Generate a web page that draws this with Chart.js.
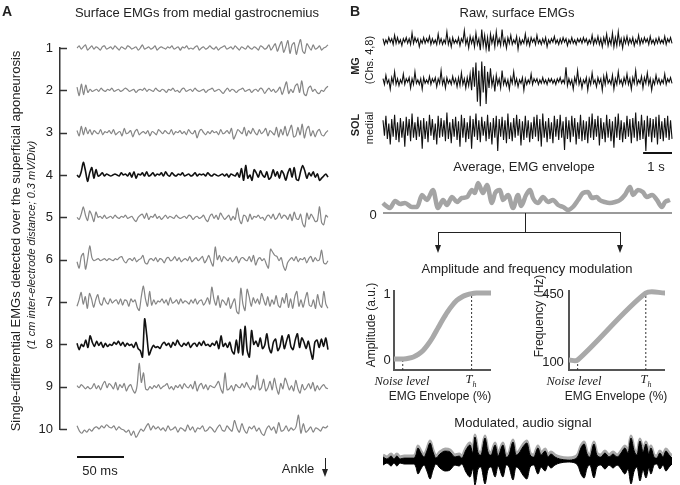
<!DOCTYPE html>
<html>
<head>
<meta charset="utf-8">
<script src="https://cdn.jsdelivr.net/npm/chart.js@4.4.1/dist/chart.umd.min.js"></script>
<style>
body { margin: 0; background: #fff; }
#fig { position: relative; width: 680px; height: 485px; overflow: hidden; font-family: "Liberation Sans", Arial, sans-serif; color: #222; }
canvas { position: absolute; }
.t { position: absolute; white-space: nowrap; transform: translate(-50%, -50%); line-height: 1; }
.r { transform: translate(-50%, -50%) rotate(-90deg); }
.b { font-weight: bold; }
.i { font-style: italic; }
.ser { font-family: "Liberation Serif", "Times New Roman", serif; font-style: italic; }
.ln { position: absolute; background: #222; }
.hd { position: absolute; width: 0; height: 0; border-left: 3.5px solid transparent; border-right: 3.5px solid transparent; border-top: 8px solid #222; }
</style>
</head>
<body>
<div id="fig">
  <canvas id="cA" width="340" height="485" style="left:0;top:0"></canvas>
  <canvas id="cRaw" width="320" height="145" style="left:360px;top:20px"></canvas>
  <canvas id="cEnv" width="320" height="55" style="left:360px;top:170px"></canvas>
  <canvas id="cAmp" width="140" height="100" style="left:360px;top:280px"></canvas>
  <canvas id="cFreq" width="170" height="100" style="left:510px;top:280px"></canvas>
  <canvas id="cAudio" width="320" height="57" style="left:360px;top:428px"></canvas>

  <div class="ln" style="left:525px;top:213px;width:1px;height:19px"></div>
  <div class="ln" style="left:438px;top:232px;width:183px;height:1px"></div>
  <div class="ln" style="left:438px;top:232px;width:1px;height:14px"></div>
  <div class="hd" style="left:435px;top:245px"></div>
  <div class="ln" style="left:620px;top:232px;width:1px;height:14px"></div>
  <div class="hd" style="left:617px;top:245px"></div>
  <div class="ln" style="left:325px;top:458px;width:1px;height:12px"></div>
  <div class="hd" style="left:322px;top:469px"></div>
</div>
<script>
// ---- panel A: single-differential EMGs, amplitude in 1/40 of a division (0.3 mV/Div)
const ch1 = [0,2,-1,1,3,-2,0,2,-1,1,0,-2,1,2,-1,0,1,-1,2,0,-2,1,0,-1,2,1,-1,0,1,-2,0,3,-1,0,1,-1,0,2,-2,0,1,0,-1,1,0,2,-1,0,1,-2,1,0,2,-1,0,-1,1,2,-2,0,1,-1,0,2,0,-1,1,-2,0,1,2,-1,0,1,-1,2,0,-2,1,0,-1,2,0,-1,1,0,-2,2,1,-1,0,3,-2,1,4,-3,2,6,-4,1,7,-5,3,5,-6,2,8,-3,-5,4,1,-2,3,-1,0,2,-2,0,1,3];
const ch2 = [3,-5,6,-4,5,-2,1,-1,0,1,-1,2,0,-1,1,0,2,-1,0,1,-1,0,2,1,-1,0,1,-2,0,1,0,2,-1,1,0,-1,2,0,-1,1,0,-2,1,0,2,-1,0,-2,1,2,-1,0,1,-1,2,0,-1,0,1,-2,0,1,2,-1,0,1,-1,-3,0,2,-1,1,0,-2,0,1,2,-1,0,1,-2,0,1,-1,2,1,-3,0,2,-1,1,-2,0,3,-4,2,8,-3,1,-2,4,6,-2,9,-3,-5,2,4,-1,1,-2,-3,0,-1,2,4];
const ch3 = [2,-3,6,-2,5,-1,3,-2,2,0,-1,3,-2,1,0,2,-1,3,-2,0,1,-3,4,-1,0,2,-4,1,3,-2,0,1,-1,2,-3,1,0,-2,3,1,-1,2,0,-1,3,-2,1,0,2,-1,1,-2,3,0,-1,2,-5,1,3,0,-2,1,-1,2,0,1,-2,3,-1,0,2,-1,4,-6,-2,3,1,-1,5,-3,2,-1,4,0,-2,3,-1,1,4,-3,2,0,-2,5,-4,3,-2,6,-3,2,7,-4,-3,5,-2,8,-5,3,6,-3,2,-4,1,3,-2,-3,0,2];
const ch4 = [0,-2,3,12,4,-6,2,7,-3,5,-1,0,2,-1,1,0,-1,0,1,0,-1,2,0,1,-1,2,-2,3,-3,1,0,2,-1,3,-1,0,2,-1,1,0,2,-1,3,0,-1,2,0,-1,1,0,2,-1,0,1,-1,0,2,-1,1,0,1,-1,2,0,-1,1,0,-1,0,1,-1,1,-2,1,0,-1,2,-2,6,-5,9,-3,0,-5,5,2,-2,4,0,-2,3,-4,-2,5,-1,3,-3,4,1,-5,2,6,-2,7,-4,-5,3,9,4,-3,2,-1,3,-2,1,-5,-3,-1,1,-2];
const ch5 = [0,-2,3,10,2,-3,6,2,-4,5,0,1,-1,2,-1,0,1,-1,2,0,-1,1,0,2,-1,0,1,-2,-4,0,2,3,-1,4,-2,1,0,3,-1,1,-2,0,2,-1,1,0,-1,2,0,-1,0,1,-1,2,1,-2,0,1,-1,0,2,-2,-4,1,3,-1,2,-2,4,1,-2,0,2,-3,1,-2,9,-2,-6,2,1,-4,3,-2,1,0,2,-1,0,-3,1,2,-1,3,-2,0,4,-1,2,1,-2,3,-3,5,-1,-2,3,-6,-9,4,-2,3,0,-4,-3,10,-5,-7,2,0];
const ch6 = [-2,-8,3,6,-9,1,13,2,-1,0,1,-1,0,1,-1,1,0,-1,1,0,2,3,-1,-3,0,1,-1,2,-2,0,1,4,-3,-4,0,1,-1,2,-2,1,0,-3,1,2,-1,0,3,-1,2,-2,0,1,-1,3,-2,0,2,-1,1,3,-3,0,4,-2,-6,12,0,4,-2,3,1,-1,2,-2,0,3,-3,1,2,0,-1,3,-2,4,-5,0,2,-1,1,-4,-8,10,7,4,3,-1,2,-6,-10,-3,0,2,-1,3,-2,1,0,2,-3,1,3,-2,2,-1,0,9,-3,-4,-1];
const ch7 = [-4,2,9,-2,5,-6,8,3,-5,2,7,-1,-3,4,0,-2,3,-1,1,2,-2,3,-3,2,1,-4,3,0,2,-5,-8,5,15,3,-4,10,-3,2,-2,1,0,3,-1,2,-3,4,-1,0,2,-2,3,-1,1,0,-2,2,-1,3,-2,1,2,-3,0,4,-2,14,3,-3,6,-5,2,0,-3,4,-6,-1,3,-9,-11,13,-2,-8,12,5,-4,4,-1,3,-2,8,2,-3,5,-4,2,-2,6,-3,-5,4,-1,8,-5,3,-6,5,10,-4,2,-5,3,9,-3,-4,2,-6,7,-2,-5,10,-2,-6];
const ch8 = [1,-5,0,-2,4,-3,8,2,-2,3,-1,2,-3,1,-2,0,-1,2,0,3,-1,2,-2,1,-1,0,-3,2,-4,-6,-12,24,8,-10,-5,-1,-3,-2,-4,0,2,-1,1,-3,2,-1,4,0,-2,1,-1,2,-3,0,1,-2,2,-1,3,-1,0,-2,1,-1,3,-4,8,-2,1,-3,2,-6,-9,4,-8,14,-10,17,-6,-12,13,0,3,-2,6,-4,-1,10,-3,-8,2,5,-6,-2,8,-4,3,9,-2,-5,4,10,-3,6,2,-4,3,-6,-14,2,4,-3,5,-2,6,-5];
const ch9 = [1,-1,2,0,-2,0,-2,-1,3,-2,1,-3,2,5,-1,3,1,-2,4,-3,2,-1,3,-4,0,2,-3,-6,1,22,4,13,-2,-3,0,-2,1,-1,2,-2,0,1,3,-2,0,-3,1,-1,2,-2,3,0,-1,2,-2,5,-4,1,3,-2,2,-3,1,0,-1,2,5,-2,-6,13,-3,-2,1,-4,2,0,-1,3,-1,4,0,-3,1,-2,11,-3,-1,7,-4,-1,5,-3,8,-1,-7,3,-2,8,3,-3,1,-4,6,-2,-6,2,-3,-1,3,-2,4,-4,1,-3,0,2,-1,-2];
const ch10 = [3,-2,-4,-1,-3,0,-2,1,2,0,3,1,4,2,1,3,-1,2,0,-1,-3,-1,-6,-2,-8,-4,0,-2,2,5,-1,3,0,2,-1,1,-2,3,-1,0,2,-3,1,0,-2,4,-1,2,-3,1,0,3,-2,-1,2,0,-3,1,4,-1,-2,3,0,-2,8,1,-3,5,-1,-4,2,0,3,-2,1,-4,-6,0,3,-1,2,-4,6,-2,-1,3,-2,1,-1,2,13,-4,5,-3,-1,2,-3,1,0,-2,2,1,3];
const channelsA = [ch1, ch2, ch3, ch4, ch5, ch6, ch7, ch8, ch9, ch10];
const blackChannels = [4, 8];
const SPAN_A = 267;          // ms shown
const DIV_A = 40;            // amplitude units per division
const scaleBarA = [0, 50];   // 50 ms

// ---- panel B: raw surface EMGs (MG ch 4, MG ch 8, SOL medial), 10 s each
const rawMG4 = [2,-3,1,-2,3,-1,2,-3,5,-2,3,-2,1,-4,2,-1,3,-2,2,-3,7,-2,3,-1,2,-5,1,-2,3,-2,2,-1,4,-3,2,-2,1,-3,6,-2,2,-3,1,-2,8,-3,2,-5,3,-2,1,-2,3,-4,2,-1,9,-3,2,-6,4,-2,3,-5,7,-3,2,-8,10,-4,5,-7,3,-9,6,-2,4,-5,8,-3,2,-4,10,-3,2,-6,3,-2,5,-3,1,-2,4,-7,2,-3,1,-2,6,-3,2,-4,3,-1,2,-3,5,-2,1,-3,2,-2,3,-5,1,-2,2,-1,4,-2,1,-3,2,-2,3,-1,2,-4,1,-2,3,-2,1,-3,2,-1,2,-2,3,-1,2,-3,1,-2,5,-3,2,-2,4,-3,2,-5,3,-2,6,-4,2,-3,7,-5,3,-4,8,-3,2,-6,3,-2,4,-3,2,-2,3,-4,1,-2,5,-3,2,-2,3,-1,2,-3,4,-2,1,-3,2,-2,3,-2,1,-2,4,-3,2,-1,3,-2];
const rawMG8 = [2,-3,5,-2,1,-7,3,-2,8,-3,2,-4,1,-2,6,-3,2,-1,3,-6,2,-3,8,-2,1,-3,2,-7,3,-2,1,-2,4,-3,2,-1,3,-5,2,-2,9,-3,2,-6,3,-2,1,-3,4,-2,2,-5,3,-4,7,-3,2,-6,3,-4,6,-8,12,-5,16,-18,9,-22,17,-10,13,-20,8,-6,11,-4,3,-9,5,-3,2,-6,9,-3,2,-4,1,-7,3,-2,8,-3,2,-5,1,-2,3,-8,2,-3,1,-2,6,-3,2,-1,2,-3,1,-2,3,-2,1,-3,2,-1,2,-2,1,-3,2,-1,3,-2,1,-2,12,-4,2,-3,1,-7,3,-2,9,-3,2,-6,1,-2,3,-8,2,-3,7,-2,1,-5,3,-2,2,-8,4,-3,6,-2,1,-3,5,-7,2,-3,8,-2,1,-4,3,-2,6,-3,2,-7,3,-2,9,-3,1,-2,4,-6,3,-2,7,-3,2,-8,1,-3,5,-2,2,-3,1,-2,6,-3,2,-1,3,-2];
const rawSOL = [8,-6,12,-9,5,-14,9,-7,13,-10,6,-12,10,-8,7,-16,11,-6,9,-11,14,-8,6,-10,11,-7,8,-18,10,-9,7,-12,13,-6,9,-10,5,-14,12,-8,10,-7,8,-11,15,-9,6,-13,9,-7,11,-10,7,-16,13,-8,10,-12,6,-9,12,-18,9,-7,14,-10,8,-12,11,-6,7,-11,13,-9,6,-14,10,-8,12,-20,9,-7,11,-10,8,-13,14,-9,6,-11,10,-8,13,-6,9,-15,7,-10,12,-8,8,-12,6,-9,11,-7,13,-11,9,-16,14,-8,7,-12,10,-9,6,-13,12,-7,9,-10,13,-8,7,-19,11,-9,8,-12,12,-7,10,-14,6,-9,13,-11,8,-10,7,-13,11,-8,14,-10,9,-7,12,-15,10,-9,6,-12,13,-8,9,-11,7,-17,11,-8,14,-10,8,-12,6,-9,12,-7,9,-13,10,-8,15,-11,7,-10,13,-9,8,-20,12,-7,10,-12,9,-8,11,-14,13,-9,7,-11,10,-8,12,-10,8,-9];
const rawTraces = [rawMG4, rawMG8, rawSOL];
const rawRows = [0, 1, 2.2];
const rawGain = [1.15, 1.15, 1.1];
const DIV_RAW = 40;
const SPAN_B = 10;           // s
const scaleBarB = [9, 10];   // 1 s

// average EMG envelope (a.u.), sampled at envTime (s)
const envTime = [0,0.07,0.24,0.42,0.59,0.76,1.00,1.18,1.35,1.52,1.73,1.90,2.08,2.21,2.39,2.56,2.73,2.91,3.08,3.18,3.29,3.46,3.60,3.77,3.88,4.05,4.15,4.33,4.50,4.67,4.78,4.95,5.09,5.19,5.36,5.54,5.71,5.88,6.06,6.23,6.40,6.57,6.75,6.92,7.09,7.23,7.40,7.50,7.67,7.85,8.03,8.20,8.37,8.55,8.65,8.82,8.99,9.13,9.31,9.48,9.65,9.76,9.93];
const envelope = [10,8,5,12,9,10,6,6,18,13,23,5,13,8,16,11,15,16,23,20,30,20,28,10,20,23,13,18,5,18,7,18,23,15,10,16,11,13,8,6,3,6,13,20,21,15,16,13,11,10,11,13,18,26,18,23,21,16,18,13,6,11,13];

// modulated audio signal amplitude (a.u.), sampled at audioTime (s)
const audioTime = [0,0.14,0.28,0.38,0.48,0.59,0.73,1.07,1.14,1.21,1.31,1.42,1.52,1.63,1.73,1.83,1.97,2.15,2.32,2.49,2.63,2.73,2.87,3.01,3.11,3.18,3.29,3.39,3.53,3.63,3.74,3.88,3.98,4.15,4.26,4.36,4.50,4.60,4.71,4.84,4.98,5.09,5.22,5.36,5.47,5.61,5.71,5.81,5.95,6.12,6.40,6.64,6.75,6.85,6.96,7.06,7.16,7.30,7.40,7.54,7.68,7.82,7.96,8.10,8.24,8.37,8.48,8.58,8.69,8.79,8.89,9.00,9.10,9.20,9.27,9.38,9.48,9.58,9.69,9.79,9.90,10];
const audioAmp = [4,2,5,2,5,2,3,3,6,13,8,4,10,18,9,3,7,10,9,4,5,3,11,16,8,24,8,6,23,9,6,16,5,16,4,6,19,6,8,14,18,6,4,13,6,10,4,7,4,2,1,2,5,13,17,7,4,17,6,4,8,4,7,4,8,13,8,23,10,6,20,9,17,7,13,4,3,8,4,10,6,3];

// modulation laws
const envPct = [0,5,10,15,20,25,30,35,40,45,50,55,60,65,70,75,80,85,90,95,100];
const ampLaw = [0,0,0,0.01,0.03,0.07,0.13,0.22,0.33,0.46,0.59,0.71,0.81,0.89,0.94,0.97,0.99,1,1,1,1];
const freqPct = [0, 9, 80, 100];
const freqLaw = [100, 100, 450, 450];
const NOISE = 9, TH = 80;

Chart.defaults.font.family = '"Liberation Sans", Arial, sans-serif';
Chart.defaults.color = '#222';

const fig = document.getElementById('fig');
function txt(s, x, y, size, cls) {
    const d = document.createElement('div');
    d.className = 't ' + (cls || '');
    d.style.left = x + 'px';
    d.style.top = y + 'px';
    d.style.fontSize = size + 'px';
    d.innerHTML = s;
    fig.appendChild(d);
}

const base = {
    responsive: false,
    animation: false,
    events: [],
    plugins: { legend: { display: false }, tooltip: { enabled: false } },
    elements: { point: { radius: 0 } }
};
function series(arr, span, f) {
    return arr.map((v, i) => ({ x: i * span / (arr.length - 1), y: f(v) }));
}
function pairs(xs, ys, f) {
    return xs.map((x, i) => ({ x: x, y: f(ys[i]) }));
}

// inward tick marks for panel A
const innerTicks = {
    id: 'innerTicks',
    afterDraw(chart) {
        const ys = chart.scales.y, ctx = chart.ctx, x0 = chart.chartArea.left;
        ctx.save();
        ctx.strokeStyle = '#333';
        ctx.lineWidth = 1.5;
        ys.ticks.forEach(t => {
            const py = Math.round(ys.getPixelForValue(t.value)) + 0.5;
            ctx.beginPath();
            ctx.moveTo(x0, py);
            ctx.lineTo(x0 + 7, py);
            ctx.stroke();
        });
        ctx.restore();
    }
};

try {
    const dsA = channelsA.map((tr, k) => {
        const black = blackChannels.includes(k + 1);
        return {
            data: series(tr, SPAN_A, v => (k + 1) - v / DIV_A),
            borderColor: black ? '#111' : '#858585',
            borderWidth: black ? 1.6 : 1.2,
            tension: 0.25,
            clip: false
        };
    });
    dsA.push({
        data: scaleBarA.map(x => ({ x: x, y: 10.66 })),
        borderColor: '#111', borderWidth: 2, clip: false
    });
    new Chart(document.getElementById('cA'), {
        type: 'line',
        data: { datasets: dsA },
        plugins: [innerTicks],
        options: Object.assign({}, base, {
            layout: { padding: { top: 48, bottom: 56, right: 8, left: 0 } },
            scales: {
                x: { type: 'linear', display: false, min: -18.1, max: 271.3 },
                y: {
                    type: 'linear', reverse: true, min: 1, max: 10,
                    afterFit(s) { s.width = 60; },
                    ticks: { stepSize: 1, padding: 7, font: { size: 13 }, color: '#222' },
                    grid: { display: false, drawTicks: false },
                    border: { display: true, color: '#333', width: 1.5 }
                }
            }
        })
    });
} catch (error) {
    console.error('panel A:', error);
}

try {
    const dsRaw = rawTraces.map((tr, k) => ({
        data: series(tr, SPAN_B, v => rawRows[k] - v * rawGain[k] / DIV_RAW),
        borderColor: '#111', borderWidth: 1.1, clip: false
    }));
    dsRaw.push({ data: scaleBarB.map(x => ({ x: x, y: 2.8 })), borderColor: '#111', borderWidth: 2 });
    new Chart(document.getElementById('cRaw'), {
        type: 'line',
        data: { datasets: dsRaw },
        options: Object.assign({}, base, {
            layout: { padding: { left: 23, right: 8, top: 0, bottom: 0 } },
            scales: {
                x: { type: 'linear', display: false, min: 0, max: SPAN_B },
                y: { type: 'linear', display: false, reverse: true, min: -0.525, max: 3.1 }
            }
        })
    });
} catch (error) {
    console.error('raw EMG:', error);
}

try {
    new Chart(document.getElementById('cEnv'), {
        type: 'line',
        data: { datasets: [
            { data: pairs(envTime, envelope, v => v), borderColor: '#a4a4a4', borderWidth: 4.5, cubicInterpolationMode: 'monotone', clip: false },
            { data: [{ x: 0, y: 0 }, { x: SPAN_B, y: 0 }], borderColor: '#9a9a9a', borderWidth: 2 }
        ] },
        options: Object.assign({}, base, {
            layout: { padding: { top: 0, bottom: 0, right: 8, left: 23 } },
            scales: {
                x: { type: 'linear', display: false, min: 0, max: SPAN_B },
                y: { type: 'linear', display: false, min: -12, max: 43 }
            }
        })
    });
} catch (error) {
    console.error('envelope:', error);
}

function lawChart(id, xs, ys, yMin, yMax, padLeft, padRight) {
    const top = ys[ys.length - 1];
    new Chart(document.getElementById(id), {
        type: 'line',
        data: { datasets: [
            { data: pairs(xs, ys, v => v), borderColor: '#a9a9a9', borderWidth: 5, tension: 0.3, clip: false },
            { data: [{ x: NOISE, y: yMin }, { x: NOISE, y: ys[0] }], borderColor: '#333', borderWidth: 1, borderDash: [2, 2] },
            { data: [{ x: TH, y: yMin }, { x: TH, y: top }], borderColor: '#333', borderWidth: 1, borderDash: [2, 2] },
            { data: [{ x: 0, y: yMax }, { x: 0, y: yMin }, { x: 100, y: yMin }], borderColor: '#555', borderWidth: 2, clip: false }
        ] },
        options: Object.assign({}, base, {
            layout: { padding: { top: 10, right: padRight, left: padLeft, bottom: 10 } },
            scales: {
                x: { type: 'linear', display: false, min: 0, max: 100 },
                y: { type: 'linear', display: false, min: yMin, max: yMax }
            }
        })
    });
}
try {
    lawChart('cAmp', envPct, ampLaw, -0.167, 1.045, 34, 9);
    lawChart('cFreq', freqPct, freqLaw, 47.8, 465.7, 59, 15);
} catch (error) {
    console.error('modulation laws:', error);
}

try {
    new Chart(document.getElementById('cAudio'), {
        type: 'line',
        data: { datasets: [
            { data: pairs(audioTime, audioAmp, v => v), borderColor: '#000', backgroundColor: '#000', borderWidth: 1, cubicInterpolationMode: 'monotone', fill: '+1' },
            { data: pairs(audioTime, audioAmp, v => -v), borderColor: '#000', borderWidth: 1, cubicInterpolationMode: 'monotone' },
            { data: pairs(audioTime, audioAmp, v => v + 2), borderColor: '#a9a9a9', borderWidth: 3, cubicInterpolationMode: 'monotone' }
        ] },
        options: Object.assign({}, base, {
            layout: { padding: { left: 23, right: 8, top: 0, bottom: 0 } },
            scales: {
                x: { type: 'linear', display: false, min: 0, max: SPAN_B },
                y: { type: 'linear', display: false, min: -24, max: 33 }
            }
        })
    });
} catch (error) {
    console.error('audio:', error);
}

// text
txt('A', 7, 11, 14, 'b');
txt('Surface EMGs from medial gastrocnemius', 197, 12, 13);
txt('Single-differential EMGs detected over the superficial aponeurosis', 15, 241, 13, 'r');
txt('(1 cm inter-electrode distance; 0.3 mV/Div)', 31, 245, 11, 'r i');
txt('50 ms', 100, 470, 13);
txt('Ankle', 298, 468, 13);
txt('B', 355, 11, 14, 'b');
txt('Raw, surface EMGs', 517, 12, 13);
txt('MG', 355, 66, 11, 'r b');
txt('(Chs. 4,8)', 369, 60, 11, 'r');
txt('SOL', 355, 125, 11, 'r b');
txt('medial', 369, 128, 11, 'r');
txt('1 s', 656, 166, 13);
txt('Average, EMG envelope', 524, 166, 13);
txt('0', 373, 214, 13);
txt('Amplitude and frequency modulation', 527, 268, 13);
txt('1', 387, 293, 13);
txt('0', 387, 359, 13);
txt('Amplitude (a.u.)', 371, 325, 12, 'r');
txt('Noise level', 402, 381, 12.5, 'ser');
txt('T<sub style="font-size:8px">h</sub>', 471, 381, 12.5, 'ser');
txt('EMG Envelope (%)', 440, 396, 12);
txt('450', 553, 293, 13);
txt('100', 553, 361, 13);
txt('Frequency (Hz)', 539, 316, 12, 'r');
txt('Noise level', 574, 381, 12.5, 'ser');
txt('T<sub style="font-size:8px">h</sub>', 646, 381, 12.5, 'ser');
txt('EMG Envelope (%)', 616, 396, 12);
txt('Modulated, audio signal', 523, 422, 13);
</script>
</body>
</html>
